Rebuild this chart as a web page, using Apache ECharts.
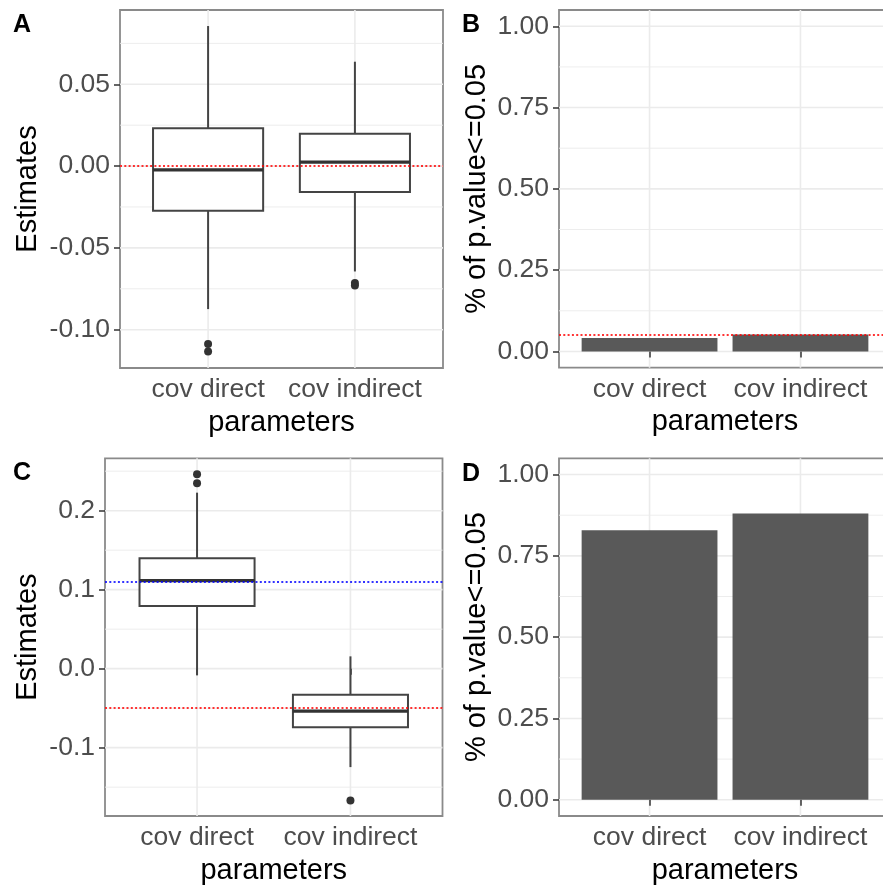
<!DOCTYPE html>
<html>
<head>
<meta charset="utf-8">
<script src="https://cdn.jsdelivr.net/npm/echarts@6/dist/echarts.min.js"></script>
<style>
  html, body { margin: 0; padding: 0; background: #fff; }
  #chart { width: 883px; height: 888px; }
</style>
</head>
<body>
<div id="chart"></div>
<script>
// ---- data ----
const categories = ['cov direct', 'cov indirect'];

// box statistics per category: [lower whisker, Q1, median, Q3, upper whisker]
const boxStatsA = [
  [-0.0874, -0.0273, -0.0023, 0.0232, 0.0856],
  [-0.0644, -0.0159, 0.0024, 0.0197, 0.0638]
];
const outliersA = [[1, -0.1088], [1, -0.1133], [2, -0.0715], [2, -0.0730]];

const boxStatsC = [
  [-0.0085, 0.0794, 0.1114, 0.1397, 0.2228],
  [-0.1246, -0.0743, -0.0537, -0.0329, 0.0156]
];
const outliersC = [[1, 0.2461], [1, 0.2347], [2, -0.1670]];

// share of p-values <= 0.05
const shareB = [0.041, 0.052];
const shareD = [0.829, 0.880];

// reference values
const refRedA = 0.00;
const refRedB = 0.05;
const refRedC = -0.05;
const refBlueC = 0.11;

// y ranges and breaks
const rangeA = [-0.1234, 0.0954];
const ticksA = [-0.10, -0.05, 0.00, 0.05];
const minorA = [-0.075, -0.025, 0.025, 0.075];

const rangeC = [-0.1865, 0.2663];
const ticksC = [-0.1, 0.0, 0.1, 0.2];
const minorC = [-0.15, -0.05, 0.05, 0.15, 0.25];

const rangeShare = [-0.05, 1.05];
const ticksShare = [0.00, 0.25, 0.50, 0.75, 1.00];
const minorShare = [0.125, 0.375, 0.625, 0.875];

const xRange = [0.4, 2.6];
const xTicks = [1, 2];

const tags = ['A', 'B', 'C', 'D'];

// ---- styling ----
const FONT = 'Liberation Sans, Arial, sans-serif';
const INK = '#333333';
const TICK_FONT = 26.5;
const TITLE_FONT = 29;

const grids = [
  { left: 120, top: 10,    width: 323,   height: 358 },
  { left: 559, top: 10,    width: 332,   height: 357.7 },
  { left: 105, top: 458.3, width: 337.5, height: 357.7 },
  { left: 559, top: 458.3, width: 332,   height: 357.7 }
];

function xAxisFor(i) {
  return {
    type: 'value', gridIndex: i, min: xRange[0], max: xRange[1],
    axisLine: { show: false },
    splitLine: { show: false },
    axisTick: { customValues: xTicks, length: 6, lineStyle: { color: INK, width: 1.5 } },
    axisLabel: {
      customValues: xTicks, margin: 8, fontSize: TICK_FONT, color: '#4d4d4d', fontFamily: FONT,
      formatter: v => categories[Math.round(v) - 1]
    },
    name: 'parameters', nameLocation: 'middle', nameGap: 40,
    nameTextStyle: { fontSize: TITLE_FONT, color: '#000', fontFamily: FONT }
  };
}

function yAxisFor(i, range, ticks, digits, name, gap) {
  return {
    type: 'value', gridIndex: i, min: range[0], max: range[1],
    axisLine: { show: false },
    splitLine: { show: false },
    axisTick: { customValues: ticks, length: 6, lineStyle: { color: INK, width: 1.5 } },
    axisLabel: {
      customValues: ticks, margin: 10, fontSize: TICK_FONT, color: '#4d4d4d', fontFamily: FONT,
      formatter: v => v.toFixed(digits)
    },
    name: name, nameLocation: 'middle', nameGap: gap,
    nameTextStyle: { fontSize: TITLE_FONT, color: '#000', fontFamily: FONT }
  };
}

// background grid: kind 0 = major horizontal, 1 = minor horizontal, 2 = vertical
function gridSeries(i, ticks, minor) {
  const data = ticks.map(v => [0, v])
    .concat(minor.map(v => [1, v]))
    .concat(xTicks.map(v => [2, v]));
  return {
    type: 'custom', xAxisIndex: i, yAxisIndex: i, z: 0, silent: true,
    data: data,
    encode: { x: -1, y: -1 },
    renderItem: function (params, api) {
      const cs = params.coordSys;
      const kind = api.value(0), v = api.value(1);
      if (kind === 2) {
        const x = api.coord([v, 0])[0];
        return { type: 'line', shape: { x1: x, y1: cs.y, x2: x, y2: cs.y + cs.height },
                 style: { stroke: '#ebebeb', lineWidth: 1.6 } };
      }
      const y = api.coord([1, v])[1];
      return { type: 'line', shape: { x1: cs.x, y1: y, x2: cs.x + cs.width, y2: y },
               style: { stroke: '#ebebeb', lineWidth: kind === 0 ? 1.6 : 0.9 } };
    }
  };
}

function boxSeries(i, stats) {
  return {
    type: 'custom', xAxisIndex: i, yAxisIndex: i, z: 2, silent: true,
    data: stats.map((s, k) => [k + 1].concat(s)),
    encode: { x: 0, y: [1, 2, 3, 4, 5] },
    renderItem: function (params, api) {
      const x = api.value(0);
      const lo = api.coord([x, api.value(1)]);
      const q1 = api.coord([x, api.value(2)]);
      const md = api.coord([x, api.value(3)]);
      const q3 = api.coord([x, api.value(4)]);
      const hi = api.coord([x, api.value(5)]);
      const half = api.size([0.75, 0])[0] / 2;
      const stroke = { stroke: '#444444', lineWidth: 2 };
      return {
        type: 'group',
        children: [
          { type: 'line', shape: { x1: lo[0], y1: lo[1], x2: q1[0], y2: q1[1] }, style: stroke },
          { type: 'line', shape: { x1: q3[0], y1: q3[1], x2: hi[0], y2: hi[1] }, style: stroke },
          { type: 'rect', shape: { x: md[0] - half, y: q3[1], width: half * 2, height: q1[1] - q3[1] },
            style: { fill: '#ffffff', stroke: '#444444', lineWidth: 2 } },
          { type: 'line', shape: { x1: md[0] - half, y1: md[1], x2: md[0] + half, y2: md[1] },
            style: { stroke: INK, lineWidth: 3.2 } }
        ]
      };
    }
  };
}

function outlierSeries(i, pts) {
  return {
    type: 'scatter', xAxisIndex: i, yAxisIndex: i, z: 3, silent: true,
    data: pts, symbol: 'circle', symbolSize: 8,
    itemStyle: { color: INK, opacity: 1 }
  };
}

function barSeries(i, values) {
  return {
    type: 'custom', xAxisIndex: i, yAxisIndex: i, z: 2, silent: true,
    data: values.map((v, k) => [k + 1, v]),
    encode: { x: 0, y: 1 },
    renderItem: function (params, api) {
      const x = api.value(0), v = api.value(1);
      const tl = api.coord([x - 0.45, v]);
      const br = api.coord([x + 0.45, 0]);
      return { type: 'rect', shape: { x: tl[0], y: tl[1], width: br[0] - tl[0], height: br[1] - tl[1] },
               style: { fill: '#595959' } };
    }
  };
}

function refLine(i, value, color) {
  return {
    type: 'line', xAxisIndex: i, yAxisIndex: i, z: 5, data: [], silent: true,
    markLine: {
      silent: true, symbol: ['none', 'none'], label: { show: false },
      lineStyle: { color: color, type: [2, 2.3], width: 2, opacity: 0.8 },
      emphasis: { disabled: true },
      data: [{ yAxis: value }]
    }
  };
}

function tag(i, left, top) {
  return { type: 'text', left: left, top: top,
           style: { text: tags[i], font: 'bold 25px ' + FONT, fill: '#000' } };
}

const option = {
  animation: false,
  backgroundColor: '#ffffff',
  textStyle: { fontFamily: FONT },
  grid: grids.map(g => Object.assign({ show: true, borderColor: '#8a8a8a', borderWidth: 1.8,
                                        backgroundColor: 'transparent', containLabel: false,
                                        outerBoundsMode: 'none' }, g)),
  xAxis: [0, 1, 2, 3].map(xAxisFor),
  yAxis: [
    yAxisFor(0, rangeA, ticksA, 2, 'Estimates', 78),
    yAxisFor(1, rangeShare, ticksShare, 2, '% of p.value<=0.05', 68),
    yAxisFor(2, rangeC, ticksC, 1, 'Estimates', 63),
    yAxisFor(3, rangeShare, ticksShare, 2, '% of p.value<=0.05', 68)
  ],
  series: [
    gridSeries(0, ticksA, minorA),
    boxSeries(0, boxStatsA),
    outlierSeries(0, outliersA),
    refLine(0, refRedA, '#ff0000'),

    gridSeries(1, ticksShare, minorShare),
    barSeries(1, shareB),
    refLine(1, refRedB, '#ff0000'),

    gridSeries(2, ticksC, minorC),
    boxSeries(2, boxStatsC),
    outlierSeries(2, outliersC),
    refLine(2, refBlueC, '#0000ff'),
    refLine(2, refRedC, '#ff0000'),

    gridSeries(3, ticksShare, minorShare),
    barSeries(3, shareD)
  ],
  graphic: [
    tag(0, 13, 13),
    tag(1, 462, 13),
    tag(2, 13, 461),
    tag(3, 462, 462)
  ]
};

const chart = echarts.init(document.getElementById('chart'), null, { renderer: 'canvas' });
chart.setOption(option);
</script>
</body>
</html>
